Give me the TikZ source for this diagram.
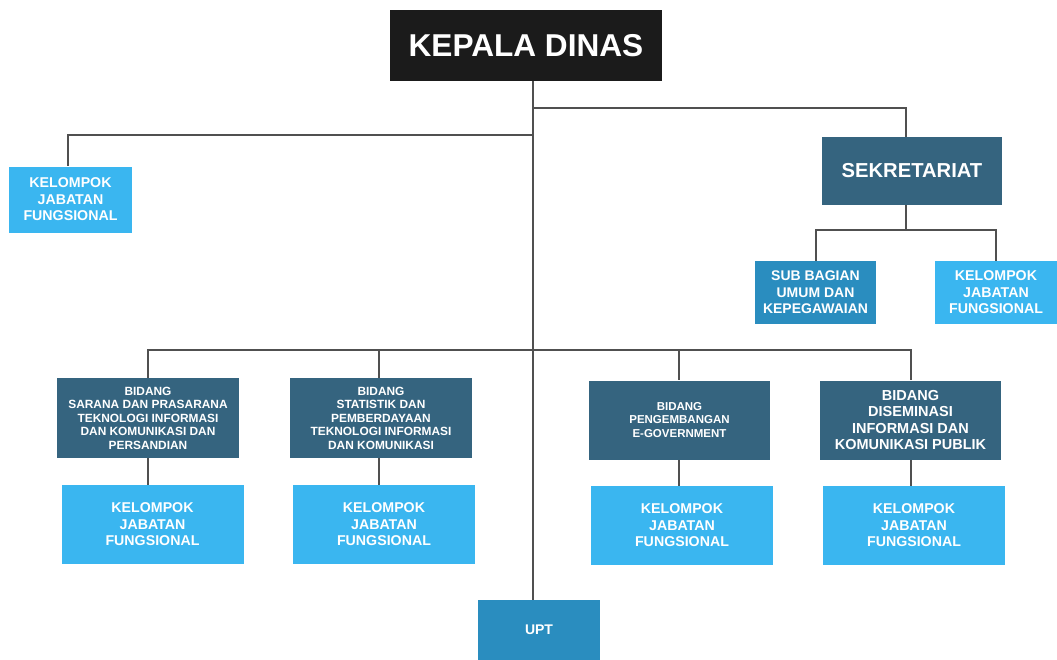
\documentclass[tikz,border=0pt]{standalone}
\usepackage{fontspec}
\setmainfont{Liberation Sans}
\definecolor{cdark}{HTML}{35647F}
\definecolor{clight}{HTML}{3AB6F0}
\definecolor{cmid}{HTML}{2A8DBF}
\definecolor{cblack}{HTML}{1B1B1B}
\definecolor{cline}{HTML}{505050}
\tikzset{
  box/.style={rectangle, inner sep=0pt, align=center, text=white},
  darkbox/.style={box, fill=cdark},
  lightbox/.style={box, fill=clight},
  midbox/.style={box, fill=cmid},
  kjf/.style={lightbox, minimum width=182pt, minimum height=79pt, font=\fontsize{14.2}{16.5}\selectfont\bfseries},
  bid/.style={darkbox, minimum width=182pt, minimum height=80pt},
  conn/.style={draw=cline, line width=1.4pt}
}
\begin{document}
\begin{tikzpicture}[x=1pt,y=-1pt]
\useasboundingbox (0,0) rectangle (1057,659);
% nodes
\node[box, fill=cblack, minimum width=272pt, minimum height=71pt, font=\fontsize{31.6}{36}\selectfont\bfseries] (KD) at (526,45.5) {KEPALA DINAS};
\node[lightbox, minimum width=123pt, minimum height=66pt, font=\fontsize{14.2}{16.5}\selectfont\bfseries] (KJF0) at (70.5,199.5) {KELOMPOK\\JABATAN\\FUNGSIONAL};
\node[darkbox, minimum width=180pt, minimum height=68pt, font=\fontsize{20.2}{24}\selectfont\bfseries] (SEK) at (912,171) {SEKRETARIAT};
\node[midbox, minimum width=121pt, minimum height=63pt, font=\fontsize{14}{16.5}\selectfont\bfseries] (SUB) at (815.5,292.5) {SUB BAGIAN\\UMUM DAN\\KEPEGAWAIAN};
\node[lightbox, minimum width=122pt, minimum height=63pt, font=\fontsize{14.2}{16.5}\selectfont\bfseries] (KJFS) at (996,292.5) {KELOMPOK\\JABATAN\\FUNGSIONAL};
\node[bid, font=\fontsize{11.9}{13.5}\selectfont\bfseries] (B1) at (148,418) {BIDANG\\SARANA DAN PRASARANA\\TEKNOLOGI INFORMASI\\DAN KOMUNIKASI DAN\\PERSANDIAN};
\node[bid, font=\fontsize{11.9}{13.5}\selectfont\bfseries] (B2) at (381,418) {BIDANG\\STATISTIK DAN\\PEMBERDAYAAN\\TEKNOLOGI INFORMASI\\DAN KOMUNIKASI};
\node[bid, minimum width=181pt, minimum height=79pt, font=\fontsize{11.5}{13.3}\selectfont\bfseries] (B3) at (679.5,420) {BIDANG\\PENGEMBANGAN\\E-GOVERNMENT};
\node[bid, minimum width=181pt, minimum height=79pt, font=\fontsize{14.5}{16.3}\selectfont\bfseries] (B4) at (910.5,420) {BIDANG\\DISEMINASI\\INFORMASI DAN\\KOMUNIKASI PUBLIK};
\node[kjf] (K1) at (152.5,524.5) {KELOMPOK\\JABATAN\\FUNGSIONAL};
\node[kjf] (K2) at (384,524.5) {KELOMPOK\\JABATAN\\FUNGSIONAL};
\node[kjf] (K3) at (682,525.5) {KELOMPOK\\JABATAN\\FUNGSIONAL};
\node[kjf] (K4) at (914,525.5) {KELOMPOK\\JABATAN\\FUNGSIONAL};
\node[midbox, minimum width=122pt, minimum height=60pt, font=\fontsize{14}{16}\selectfont\bfseries] (UPT) at (539,630) {UPT};
% junction coordinates
\coordinate (xT) at (533,0);
\coordinate (xS) at (906,0);
\coordinate (x0) at (68,0);
\coordinate (xSub) at (816,0);
\coordinate (xK) at (996,0);
\coordinate (x1) at (148,0);
\coordinate (x2) at (379,0);
\coordinate (x3) at (679,0);
\coordinate (x4) at (911,0);
\coordinate (jA) at (533,108);
\coordinate (jB) at (533,135);
\coordinate (jC) at (906,230);
\coordinate (jD) at (533,350);
% connectors
\draw[conn] (KD.south -| xT) -- (UPT.north -| xT);
\draw[conn] (jA) -| (SEK.north -| xS);
\draw[conn] (jB) -| (KJF0.north -| x0);
\draw[conn] (SEK.south -| xS) -- (jC);
\draw[conn] (jC) -| (SUB.north -| xSub);
\draw[conn] (jC) -| (KJFS.north -| xK);
\draw[conn] (jD) -| (B1.north -| x1);
\draw[conn] (jD) -| (B2.north -| x2);
\draw[conn] (jD) -| (B3.north -| x3);
\draw[conn] (jD) -| (B4.north -| x4);
\draw[conn] (B1.south -| x1) -- (K1.north -| x1);
\draw[conn] (B2.south -| x2) -- (K2.north -| x2);
\draw[conn] (B3.south -| x3) -- (K3.north -| x3);
\draw[conn] (B4.south -| x4) -- (K4.north -| x4);
\end{tikzpicture}
\end{document}
